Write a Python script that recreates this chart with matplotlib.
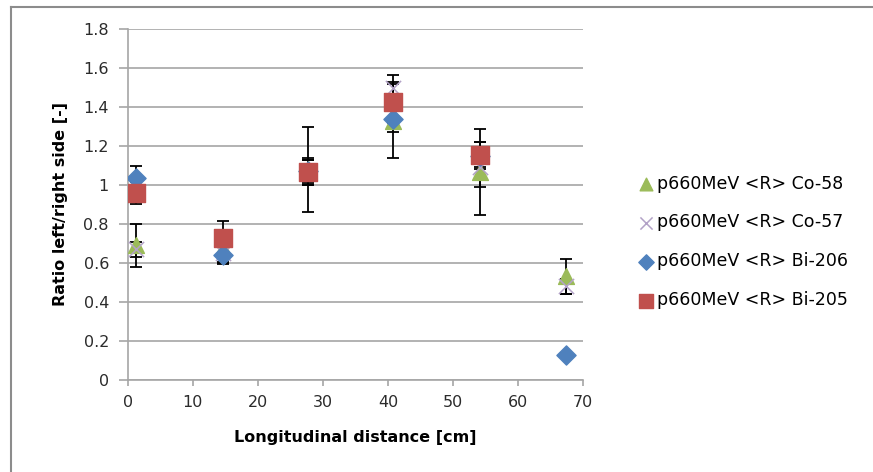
import matplotlib
matplotlib.use("Agg")
import matplotlib.pyplot as plt
from matplotlib.lines import Line2D

# longitudinal positions [cm]
x_pos = [1.3, 14.7, 27.7, 40.8, 54.1, 67.3]

co58 = [0.69, 0.675, 1.08, 1.33, 1.065, 0.533]
co58_err = [0.11, 0.07, 0.22, 0.19, 0.22, 0.09]

co57 = [0.67, 0.65, 1.07, 1.50, 1.09, 0.48]
co57_err = [0.04, 0.05, 0.07, 0.065, 0.10, 0.04]

bi206 = [1.035, 0.64, 1.07, 1.34, 1.15, 0.13]
bi206_err = [0.06, 0.045, 0.06, 0.07, 0.07, 0.01]

bi205 = [0.96, 0.73, 1.065, 1.425, 1.155]
bi205_err = [0.055, 0.085, 0.065, 0.105, 0.065]

labels = ["p660MeV <R> Co-58", "p660MeV <R> Co-57",
          "p660MeV <R> Bi-206", "p660MeV <R> Bi-205"]

W, H = 873, 472
fig = plt.figure(figsize=(W / 100, H / 100), dpi=100)
ax = fig.add_axes([127.7 / W, 1 - 380 / H, (583.3 - 127.7) / W, (380 - 29) / H])

# chart-area frame (only top and left edge visible)
fig.add_artist(Line2D([11 / W, 11 / W], [0, 1 - 6.5 / H], color="#8c8c8c", lw=1.5))
fig.add_artist(Line2D([11 / W, 1], [1 - 6.5 / H, 1 - 6.5 / H], color="#8c8c8c", lw=1.5))

eb = dict(fmt="none", ecolor="black", elinewidth=1.3, capsize=4.2, capthick=1.3, zorder=3)
ax.errorbar(x_pos, co58, yerr=co58_err, **eb)
ax.errorbar(x_pos, co57, yerr=co57_err, **eb)
ax.errorbar(x_pos, bi206, yerr=bi206_err, **eb)
ax.errorbar(x_pos[:len(bi205)], bi205, yerr=bi205_err, **eb)

ax.scatter(x_pos, co58, marker="^", s=130, color="#9BBB59", zorder=4, label=labels[0])
ax.scatter(x_pos, co57, marker="x", s=120, color="#B3A2C7", linewidths=1.1, zorder=5, label=labels[1])
ax.scatter(x_pos, bi206, marker="D", s=95, color="#4F81BD", zorder=6, label=labels[2])
ax.scatter(x_pos[:len(bi205)], bi205, marker="s", s=150, color="#C0504D", zorder=7, label=labels[3])

ax.set_xlim(0, 70)
ax.set_ylim(0, 1.8)
ax.set_xticks(range(0, 71, 10))
ax.set_yticks([i * 0.2 for i in range(10)])
ax.set_yticklabels(["0", "0.2", "0.4", "0.6", "0.8", "1", "1.2", "1.4", "1.6", "1.8"])

ax.grid(axis="y", color="#a6a6a6", lw=1.2, zorder=0)
ax.set_axisbelow(True)
for s in ("top", "right"):
    ax.spines[s].set_visible(False)
for s in ("left", "bottom"):
    ax.spines[s].set_color("#a6a6a6")
    ax.spines[s].set_linewidth(1.2)
ax.tick_params(axis="y", direction="out", length=6.5, color="#a6a6a6", width=1.2,
               labelsize=11.5, labelcolor="#2b2b2b", pad=7)
ax.tick_params(axis="x", direction="out", length=4.5, color="#a6a6a6", width=1.2,
               labelsize=11.5, labelcolor="#2b2b2b", pad=6)

ax.set_xlabel("Longitudinal distance [cm]", fontsize=11.5, fontweight="bold", labelpad=15)
ax.set_ylabel("Ratio left/right side [-]", fontsize=11.5, fontweight="bold", labelpad=11)

ax.legend(loc="upper left", bbox_to_anchor=(1.105, 0.605), frameon=False, fontsize=12.5,
          handletextpad=0.2, labelspacing=1.2, handlelength=0.9, borderaxespad=0,
          markerscale=0.8)

fig.savefig("out.png", dpi=100)
